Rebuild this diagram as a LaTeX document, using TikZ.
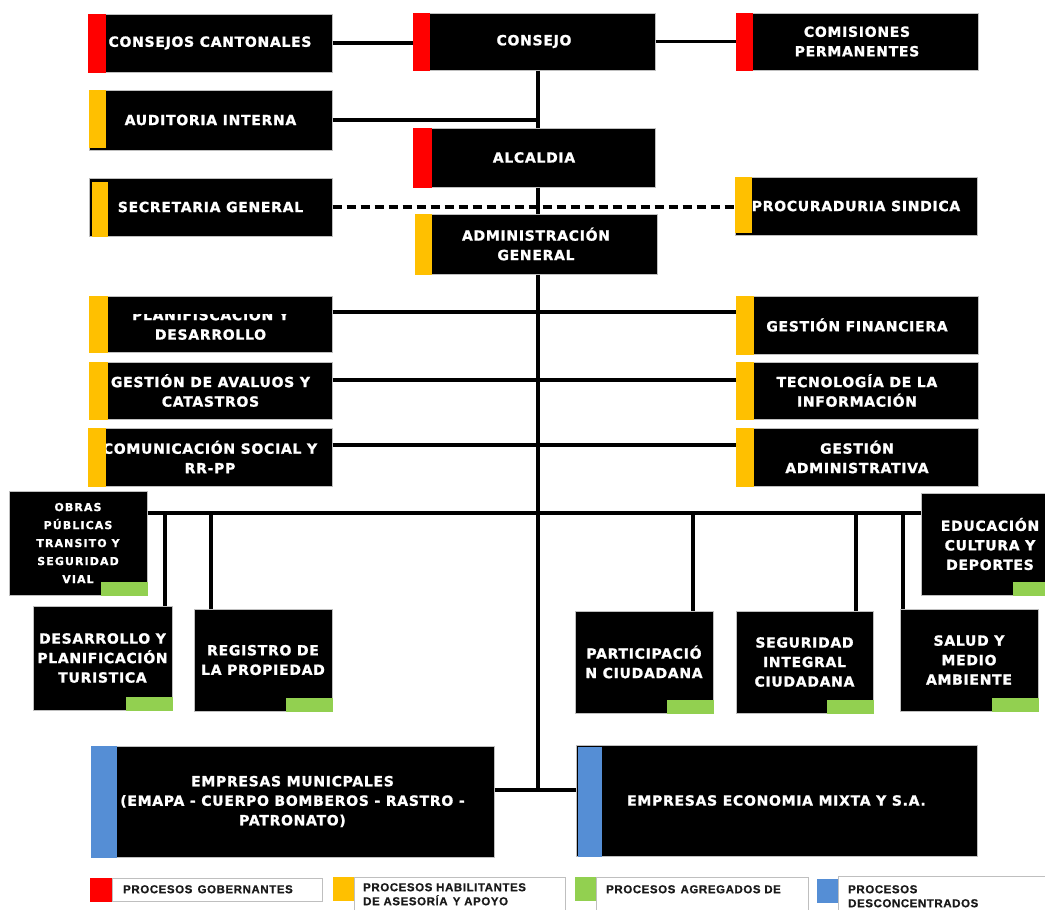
\documentclass[tikz,border=0pt]{standalone}
\usepackage{fontspec}
\newfontfamily\orgfont[LetterSpace=5, FakeBold=1.3]{DejaVu Sans Bold}
\newfontfamily\smallorgfont[LetterSpace=10, FakeBold=1.0]{DejaVu Sans Bold}
\newfontfamily\legendfont[LetterSpace=5, FakeBold=0.6]{Liberation Sans Bold}

\definecolor{govred}{HTML}{FF0000}
\definecolor{advyellow}{HTML}{FFC000}
\definecolor{aggreen}{HTML}{92D050}
\definecolor{deblue}{HTML}{558ED5}
\definecolor{edgegray}{HTML}{BFBFBF}
\definecolor{legtext}{HTML}{1A1A1A}

\tikzset{
  unitbox/.style={fill=black, draw=edgegray, line width=1pt, inner sep=0pt,
    text=white, align=center, font=\orgfont\fontsize{14}{19.5}\selectfont},
  smallbox/.style={unitbox, font=\smallorgfont\fontsize{11}{18}\selectfont},
  boxtext/.style={inner sep=0pt, text=white, align=center,
    font=\orgfont\fontsize{14}{19.5}\selectfont},
  link/.style={line width=3.3pt, draw=black},
  dashlink/.style={link, dash pattern=on 9pt off 5pt},
  legkey/.style={inner sep=0pt, minimum width=22pt, minimum height=24pt},
  legbox/.style={fill=white, draw=edgegray, line width=0.8pt, inner sep=0pt},
  legtxt/.style={inner sep=0pt, anchor=north west, align=left, text=legtext,
    font=\legendfont\fontsize{11.5}{14}\selectfont},
}

% side strip of a unit box: colour, node, strip width
\newcommand\sidestrip[3]{\fill[#1] (#2.north west) rectangle ([xshift=#3]#2.south west);}
% tab in the lower right corner of a unit box
\newcommand\cornertab[1]{\fill[aggreen] ([xshift=-47pt,yshift=14pt]#1.south east) rectangle (#1.south east);}

\begin{document}
\begin{tikzpicture}[x=1pt,y=-1pt]
\clip (0,0) rectangle (1045,910);
\fill[white] (0,0) rectangle (1045,910);

% ---- governing level
\node[unitbox, minimum width=244pt, minimum height=58pt] (cc) at (210,43) {CONSEJOS CANTONALES};
\sidestrip{govred}{cc}{18pt}
\node[unitbox, minimum width=242pt, minimum height=57pt] (consejo) at (534,41.5) {CONSEJO};
\sidestrip{govred}{consejo}{17pt}
\node[unitbox, minimum width=242pt, minimum height=57pt] (comis) at (857,41.5) {COMISIONES\\PERMANENTES};
\sidestrip{govred}{comis}{17pt}
\node[unitbox, minimum width=242pt, minimum height=59pt] (alcaldia) at (534,157.5) {ALCALDIA};
\sidestrip{govred}{alcaldia}{19pt}

% ---- advisory level
\node[unitbox, minimum width=243pt, minimum height=60pt] (audit) at (210.5,120) {AUDITORIA INTERNA};
\fill[advyellow] (audit.north west) rectangle ([xshift=17pt,yshift=3pt]audit.south west);
\node[unitbox, minimum width=243pt, minimum height=58pt] (secre) at (210.5,207) {SECRETARIA GENERAL};
\fill[advyellow] ([xshift=3pt,yshift=-4pt]secre.north west) rectangle ([xshift=19pt]secre.south west);
\node[unitbox, minimum width=242pt, minimum height=58pt] (procu) at (856,206) {PROCURADURIA SINDICA};
\fill[advyellow] (procu.north west) rectangle ([xshift=17pt,yshift=3pt]procu.south west);
\node[unitbox, minimum width=242pt, minimum height=60pt] (admin) at (536,244) {ADMINISTRACIÓN\\GENERAL};
\sidestrip{advyellow}{admin}{17pt}

\node[unitbox, minimum width=243pt, minimum height=56pt] (planif) at (210.5,324) {};
\sidestrip{advyellow}{planif}{19pt}
\begin{scope}
  \clip (planif.west |- 0,314) rectangle (planif.south east);
  \node[boxtext] (planiftxt) at (210.5,323.5) {PLANIFISCACIÓN Y\\DESARROLLO};
\end{scope}
\node[unitbox, minimum width=242pt, minimum height=58pt] (gfin) at (857,325) {GESTIÓN FINANCIERA};
\sidestrip{advyellow}{gfin}{18pt}
\node[unitbox, minimum width=243pt, minimum height=57pt] (aval) at (210.5,390.5) {GESTIÓN DE AVALUOS Y\\CATASTROS};
\sidestrip{advyellow}{aval}{19pt}
\node[unitbox, minimum width=242pt, minimum height=57pt] (tec) at (857,390.5) {TECNOLOGÍA DE LA\\INFORMACIÓN};
\sidestrip{advyellow}{tec}{18pt}
\node[unitbox, minimum width=244pt, minimum height=58pt] (comu) at (210,457) {COMUNICACIÓN SOCIAL Y\\RR-PP};
\sidestrip{advyellow}{comu}{18pt}
\node[unitbox, minimum width=242pt, minimum height=58pt] (gadm) at (857,457) {GESTIÓN\\ADMINISTRATIVA};
\sidestrip{advyellow}{gadm}{18pt}

% ---- aggregated units
\node[smallbox, minimum width=138pt, minimum height=104pt] (obras) at (78,543) {OBRAS\\PÚBLICAS\\TRANSITO Y\\SEGURIDAD\\VIAL};
\cornertab{obras}
\node[unitbox, minimum width=139pt, minimum height=104pt] (desa) at (102.5,658) {DESARROLLO Y\\PLANIFICACIÓN\\TURISTICA};
\cornertab{desa}
\node[unitbox, minimum width=138pt, minimum height=102pt] (regis) at (263,660) {REGISTRO DE\\LA PROPIEDAD};
\cornertab{regis}
\node[unitbox, minimum width=138pt, minimum height=102pt] (parti) at (644,662) {PARTICIPACIÓ\\N CIUDADANA};
\cornertab{parti}
\node[unitbox, minimum width=137pt, minimum height=102pt] (segu) at (804.5,662) {SEGURIDAD\\INTEGRAL\\CIUDADANA};
\cornertab{segu}
\node[unitbox, minimum width=138pt, minimum height=102pt] (salud) at (969,660) {SALUD Y\\MEDIO\\AMBIENTE};
\cornertab{salud}
\node[unitbox, minimum width=138pt, minimum height=102pt] (educ) at (990,544) {EDUCACIÓN\\CULTURA Y\\DEPORTES};
\cornertab{educ}

% ---- decentralised companies
\node[unitbox, minimum width=403pt, minimum height=111pt] (emun) at (292.5,801.5) {EMPRESAS MUNICPALES\\(EMAPA - CUERPO BOMBEROS - RASTRO -\\PATRONATO)};
\sidestrip{deblue}{emun}{26pt}
\node[unitbox, minimum width=401pt, minimum height=111pt] (emix) at (776.5,800.5) {EMPRESAS ECONOMIA MIXTA Y S.A.};
\fill[deblue] ([xshift=2pt,yshift=-2pt]emix.north west) rectangle ([xshift=26pt]emix.south west);

% ---- connectors
\coordinate (spine) at (538,0);
\coordinate (base) at (538,790);
\coordinate (bus) at (0,513);
\draw[link] (cc.east) -- (cc.east -| consejo.west);
\draw[link] (consejo.east) -- (consejo.east -| comis.west);
\draw[link] (consejo.south -| spine) -- (alcaldia.north -| spine);
\draw[link] (audit.east) -- (audit.east -| spine);
\draw[link] (alcaldia.south -| spine) -- (admin.north -| spine);
\draw[dashlink] (secre.east) -- (secre.east -| procu.west);
\draw[link] (admin.south -| spine) -- (base);
\draw[link] ([yshift=12pt]planif.east) -- ([yshift=12pt]planif.east -| gfin.west);
\draw[link] ([yshift=10.5pt]aval.east) -- ([yshift=10.5pt]aval.east -| tec.west);
\draw[link] ([yshift=12pt]comu.east) -- ([yshift=12pt]comu.east -| gadm.west);
\draw[link] (obras.east |- bus) -- (educ.west |- bus);
\coordinate (dropA) at (165,513);
\coordinate (dropB) at (211,513);
\coordinate (dropC) at (693,513);
\coordinate (dropD) at (856,513);
\coordinate (dropE) at (903,513);
\draw[link] (dropA) -- (dropA |- desa.north);
\draw[link] (dropB) -- (dropB |- regis.north);
\draw[link] (dropC) -- (dropC |- parti.north);
\draw[link] (dropD) -- (dropD |- segu.north);
\draw[link] (dropE) -- (dropE |- salud.north);
\draw[link] (emun.east |- base) -- (emix.west |- base);

% ---- legend
\node[legkey, fill=govred] (k1) at (100.5,889.5) {};
\node[legbox, minimum width=210pt, minimum height=23pt] (l1) at (217,889.5) {};
\node[legtxt] (t1) at (123,885) {PROCESOS\hspace{0.45em}GOBERNANTES};
\node[legkey, fill=advyellow] (k2) at (344,888.5) {};
\node[legbox, minimum width=211pt, minimum height=40pt] (l2) at (459.5,897) {};
\node[legtxt] (t2) at (363,883) {PROCESOS HABILITANTES\\DE ASESORÍA\hspace{0.45em}Y APOYO};
\node[legkey, fill=aggreen] (k3) at (586,889) {};
\node[legbox, minimum width=212pt, minimum height=40pt] (l3) at (702,897) {};
\node[legtxt] (t3) at (606,885) {PROCESOS\hspace{0.45em}AGREGADOS DE};
\node[legkey, fill=deblue] (k4) at (828,891) {};
\node[legbox, minimum width=212pt, minimum height=40pt] (l4) at (944,896) {};
\node[legtxt] (t4) at (848,885) {PROCESOS\\DESCONCENTRADOS};
\end{tikzpicture}
\end{document}
